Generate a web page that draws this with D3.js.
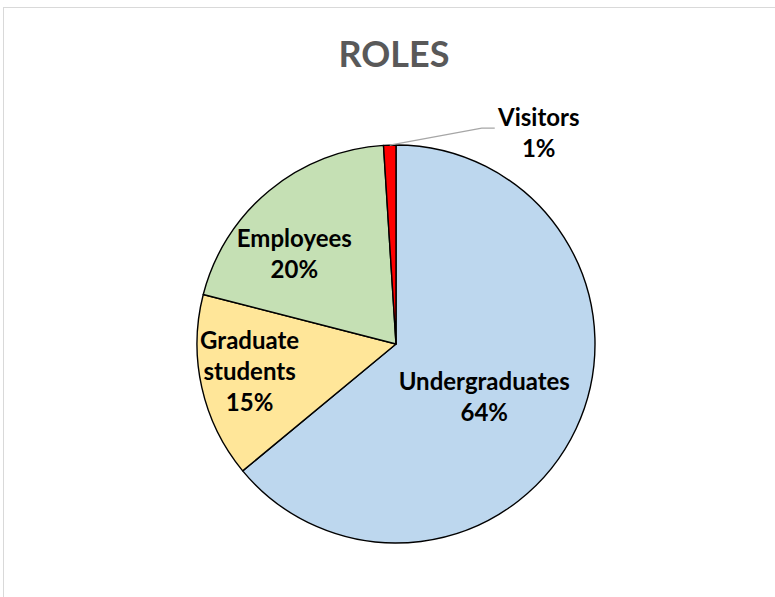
<!DOCTYPE html>
<html>
<head>
<meta charset="utf-8">
<script src="https://cdn.jsdelivr.net/npm/d3@7"></script>
<style>
  html, body { margin: 0; padding: 0; background: #fff; }
  svg { display: block; }
  text { font-family: Lato, "Open Sans", sans-serif; font-weight: bold; }
</style>
</head>
<body>
<svg id="chart" width="775" height="597"></svg>
<script>
// Share of people by role (percent)
const categories = ["Undergraduates", "Graduate students", "Employees", "Visitors"];
const values = [64, 15, 20, 1];
const labelLines = [["Undergraduates"], ["Graduate", "students"], ["Employees"], ["Visitors"]];
const sliceColors = ["#BDD7EE", "#FFE699", "#C5E0B4", "#FF0000"];
const title = "ROLES";

const svg = d3.select("#chart");
const W = 775, H = 597;
const cx = 396, cy = 344, R = 199;

// chart area frame
svg.append("rect")
  .attr("x", 3.5).attr("y", 7.5)
  .attr("width", W + 10).attr("height", H + 10)
  .attr("fill", "#fff").attr("stroke", "#d9d9d9").attr("stroke-width", 1);

svg.append("text")
  .attr("x", 394).attr("y", 67)
  .attr("text-anchor", "middle")
  .attr("fill", "#595959")
  .attr("font-size", 36)
  .text(title);

const data = categories.map((c, i) => ({ name: c, value: values[i], lines: labelLines[i], color: sliceColors[i] }));

const pie = d3.pie().value(d => d.value).sort(null);
const arcs = pie(data);
const arc = d3.arc().innerRadius(0).outerRadius(R);

const g = svg.append("g").attr("transform", `translate(${cx},${cy})`);

g.selectAll("path.slice")
  .data(arcs)
  .join("path")
  .attr("class", "slice")
  .attr("d", arc)
  .attr("fill", d => d.data.color)
  .attr("stroke", "#000")
  .attr("stroke-width", 1.4)
  .attr("stroke-linejoin", "round");

// label radius per slice (best-fit placement) plus a small nudge;
// the tiny slice gets a callout label outside the pie
const labelRadius = [102, 150, 136, null];
const labelNudge = [[-4, 9], [0, -5], [-15, 15], [6, -2]];
const lineGap = 31;
const fontSize = 24;

arcs.forEach((a, i) => {
  const mid = (a.startAngle + a.endAngle) / 2;
  let x, y;
  const lines = a.data.lines.concat([d3.format(".0f")(a.data.value) + "%"]);
  if (labelRadius[i] != null) {
    x = Math.sin(mid) * labelRadius[i];
    y = -Math.cos(mid) * labelRadius[i];
  } else {
    // callout label with leader line
    const p0 = [Math.sin(mid) * R, -Math.cos(mid) * R];
    const elbow = [p0[0] + 92, p0[1] - 17];
    const end = [elbow[0] + 13, elbow[1]];
    g.append("polyline")
      .attr("points", [p0, elbow, end].map(p => p.join(",")).join(" "))
      .attr("fill", "none")
      .attr("stroke", "#a6a6a6")
      .attr("stroke-width", 1.3);
    x = end[0] + 38;
    y = end[1] + 7;
  }
  x += labelNudge[i][0];
  y += labelNudge[i][1];
  const n = lines.length;
  const t = g.append("text")
    .attr("text-anchor", "middle")
    .attr("font-size", fontSize)
    .attr("fill", "#000");
  lines.forEach((ln, k) => {
    t.append("tspan")
      .attr("x", x)
      .attr("y", y + (k - (n - 1) / 2) * lineGap)
      .attr("dy", "0.36em")
      .text(ln);
  });
});
</script>
</body>
</html>
